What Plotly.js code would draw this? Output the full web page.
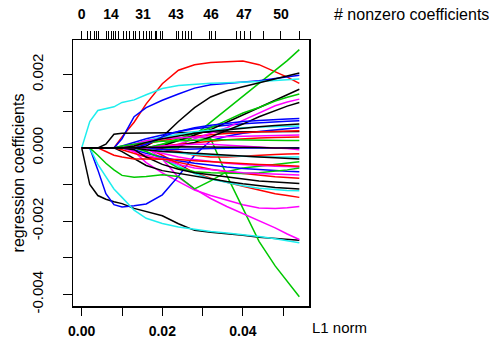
<!DOCTYPE html>
<html>
<head>
<meta charset="utf-8">
<script src="https://cdn.plot.ly/plotly-3.0.1.min.js"></script>
<style>html,body{margin:0;padding:0;background:#fff;}#chart{width:489px;height:339px;}</style>
</head>
<body>
<div id="chart"></div>
<script>
// L1 norm sample positions (x)
const l1norm = [0,0.002,0.004,0.006,0.008,0.010,0.013,0.016,0.020,0.024,0.028,0.032,0.036,0.040,0.044,0.048,0.051,0.054];

// coefficient paths, grouped by line colour
const blackPaths = [
  [0,-0.0010,-0.0013,-0.0014,-0.00147,-0.00152,-0.00165,-0.00174,-0.00185,-0.00207,-0.00225,-0.0023,-0.00233,-0.00238,-0.00244,-0.00248,-0.0025,-0.00252],
  [0,0,0,0,0,0,0,0.00005,0.0003,0.00072,0.0011,0.00139,0.00156,0.00167,0.00177,0.00188,0.00196,0.00204],
  [0,0,0,0.0001,0.00037,0.0004,0.0004,0.0004,0.00041,0.00042,0.00042,0.00043,0.00043,0.00044,0.00044,0.00045,0.00045,0.00045],
  [0,0,0,0,0,0,0,0,0.00005,0.0002,0.00035,0.0005,0.0007,0.0009,0.0011,0.0013,0.00145,0.0016],
  [0,0,0,0,0,0,0,0,0,0.00005,0.00015,0.0003,0.00047,0.00065,0.00085,0.00102,0.00114,0.00124],
  [0,0,0,0,0,-0.0001,-0.0003,-0.00048,-0.00062,-0.0007,-0.00078,-0.00085,-0.00092,-0.00098,-0.00104,-0.00108,-0.0011,-0.00112],
  [0,0,0,0,0,0,-0.00005,-0.00025,-0.00045,-0.00058,-0.00068,-0.00074,-0.0008,-0.00085,-0.0009,-0.00093,-0.00095,-0.00097],
  [0,0,0,0,0,0,0.00005,0.00015,0.00025,0.00033,0.0004,0.00045,0.0005,0.00054,0.00058,0.00061,0.00063,0.00065],
  [0,0,0,0,0,0,0,0,0.00002,0.00003,0.00003,0.00002,0.00002,0.00001,0.00001,0,0,0],
  [0,0,0,0,0,0,0,-0.00005,-0.0001,-0.00012,-0.00015,-0.00018,-0.0002,-0.00022,-0.00025,-0.00027,-0.00028,-0.0003]
];
const redPaths = [
  [0,0,0,0,0,0.0003,0.0007,0.0012,0.00175,0.00212,0.00227,0.00233,0.00236,0.00237,0.00227,0.00208,0.00193,0.00176],
  [0,0,0,0,0,0,0,0,-0.0002,-0.00045,-0.00068,-0.00083,-0.00095,-0.00105,-0.00115,-0.00125,-0.0013,-0.00135],
  [0,0,0,0,0,0,0.00005,0.00012,0.0002,0.00027,0.00032,0.00036,0.00039,0.00042,0.00044,0.00045,0.00046,0.00047],
  [0,0,0,0,0,0,0,0,0.00005,0.0001,0.00015,0.00018,0.00022,0.00025,0.00027,0.00028,0.00029,0.0003],
  [0,0,0,0,0,0,0,0,-0.00005,-0.0001,-0.0002,-0.00025,-0.00025,-0.00022,-0.0002,-0.00018,-0.00017,-0.00016],
  [0,0,0,0,0,-0.00005,-0.00015,-0.00025,-0.0003,-0.0004,-0.0005,-0.00058,-0.00065,-0.0007,-0.00075,-0.00079,-0.00081,-0.00083],
  [0,0,0,-0.0001,-0.0002,-0.00025,-0.0003,-0.0003,-0.0003,-0.00032,-0.00035,-0.00038,-0.0004,-0.00042,-0.00045,-0.00047,-0.00049,-0.0005]
];
const greenPaths = [
  [0,0,0,0,0,0,0,0,0,0,0.00035,0.0007,0.00105,0.0014,0.00175,0.0021,0.00238,0.00268],
  [0,0,0,0,0,0,0,0,0.0001,0.0002,0.0003,0.00025,-0.00075,-0.00165,-0.00255,-0.00322,-0.00365,-0.00406],
  [0,0,-0.0002,-0.00042,-0.0006,-0.00075,-0.0008,-0.00078,-0.00073,-0.00078,-0.00112,-0.0009,-0.00065,-0.00055,-0.0005,-0.00045,-0.0004,-0.00038],
  [0,0,0,0,0,0,0,0,0.0001,0.00025,0.0004,0.00055,0.00075,0.00095,0.0011,0.00128,0.00138,0.00147],
  [0,0,0,0,0,0.00005,0.0001,0.00015,0.00018,0.0002,0.00022,0.00022,0.00022,0.00021,0.0002,0.0002,0.0002,0.0002],
  [0,0,0,0,0,0,0,-0.0001,-0.0003,-0.00055,-0.00065,-0.00068,-0.0007,-0.0007,-0.00068,-0.00064,-0.0006,-0.00055]
];
const bluePaths = [
  [0,0,0,0,0,0.00025,0.00085,0.0011,0.0013,0.00147,0.00163,0.00172,0.00176,0.00178,0.00183,0.00189,0.00194,0.00198],
  [0,0,-0.0006,-0.00125,-0.00155,-0.00161,-0.00158,-0.00153,-0.00128,-0.00077,-0.0002,0.0002,0.00032,0.0004,0.00045,0.0005,0.00052,0.00055],
  [0,0,0,0,0,0.00005,0.00015,0.00025,0.00035,0.00045,0.00052,0.00058,0.00062,0.00066,0.00069,0.00071,0.00073,0.00074],
  [0,0,0,0,0,0,-0.00005,-0.00015,-0.00025,-0.00035,-0.00042,-0.00048,-0.00052,-0.00056,-0.0006,-0.00062,-0.00064,-0.00065],
  [0,0,0,0,0,0,0,0,-0.00005,-0.00005,-0.00003,-0.00002,0,0,0,0,0,0],
  [0,0,0,0,0,0,0,0.0001,0.0003,0.00045,0.00055,0.00062,0.00068,0.00072,0.00075,0.00078,0.00079,0.0008]
];
const cyanPaths = [
  [0,0.00072,0.00102,0.00107,0.00112,0.00124,0.00131,0.00145,0.00162,0.0017,0.00174,0.00176,0.00178,0.00179,0.00181,0.00184,0.00186,0.00188],
  [0,0,-0.00045,-0.0008,-0.00112,-0.00135,-0.0017,-0.00192,-0.00206,-0.00216,-0.00223,-0.00228,-0.00232,-0.00236,-0.00242,-0.00248,-0.00253,-0.00259],
  [0,0,0,0,0,0,0,-0.0001,-0.0003,-0.0005,-0.0007,-0.00085,-0.00095,-0.00103,-0.0011,-0.00114,-0.00116,-0.00117],
  [0,0,0,0,0,0,0.0001,0.0002,0.0003,0.00038,0.00044,0.00048,0.00052,0.00055,0.00057,0.00058,0.00059,0.0006],
  [0,0,0,0,0,0,0,-0.00005,-0.0001,-0.00015,-0.00018,-0.0002,-0.00022,-0.00023,-0.00024,-0.00025,-0.00025,-0.00025]
];
const magentaPaths = [
  [0,0,0,0,0,0,-0.0001,-0.0004,-0.00068,-0.00092,-0.00115,-0.0013,-0.00143,-0.00155,-0.00164,-0.00165,-0.00163,-0.0016],
  [0,0,0,0,0,0,0,0,-0.0003,-0.0008,-0.00112,-0.00138,-0.0016,-0.00179,-0.00198,-0.00218,-0.00235,-0.0025],
  [0,0,0,0,0,0,0,0,0,0.0001,0.00025,0.0004,0.00055,0.00075,0.00095,0.00115,0.00125,0.00133],
  [0,0,0,0,0,0,0.0001,0.0002,0.00025,0.00028,0.0003,0.0003,0.00031,0.00032,0.00033,0.00034,0.00035,0.00035],
  [0,0,0,0,0,0,0,-0.00005,-0.00015,-0.00025,-0.00032,-0.00038,-0.00042,-0.00045,-0.00048,-0.0005,-0.00051,-0.00052],
  [0,0,0,0,0,0,-0.0001,-0.0002,-0.0003,-0.00045,-0.00055,-0.0006,-0.00065,-0.00068,-0.0007,-0.00072,-0.00073,-0.00074],
  [0,0,0,0,0,0,0,0,0.00005,0.00008,0.0001,0.0001,0.00008,0.00005,0.00003,0,-0.00002,-0.00005]
];

// axis ticks and labels
const xTickVals = [0,0.01,0.02,0.03,0.04,0.05];
const xTickText = ['0.00','','0.02','','0.04',''];
const yTickVals = [-0.004,-0.003,-0.002,-0.001,0,0.001,0.002];
const yTickText = ['-0.004','','-0.002','','0.000','','0.002'];
// top rug of steps and the number of nonzero coefficients
const dfTickPos = [0,0.00156,0.00206,0.00305,0.00355,0.00429,0.00603,0.00653,0.00727,0.00777,0.00827,0.00901,0.01025,0.01099,0.01174,0.01273,0.01347,0.01422,0.01521,0.01596,0.0167,0.01744,0.01819,0.01868,0.01943,0.02017,0.0234,0.02414,0.02489,0.02563,0.02638,0.02712,0.03159,0.03308,0.03829,0.03928,0.04027,0.04176,0.04499,0.04945,0.05392];
const dfLabelPos = [0,0.00727,0.01521,0.0234,0.03211,0.04027,0.04945];
const dfLabels = ['0','14','31','43','46','47','50'];

const groups = [
  {paths: blackPaths, color: '#000000'},
  {paths: redPaths, color: '#FF0000'},
  {paths: greenPaths, color: '#00C800'},
  {paths: bluePaths, color: '#0000FF'},
  {paths: cyanPaths, color: '#1EEEEE'},
  {paths: magentaPaths, color: '#FF00FF'}
];
const traces = [];
const maxLen = Math.max(...groups.map(g => g.paths.length));
for (let i = 0; i < maxLen; i++) {
  groups.forEach(g => {
    if (i < g.paths.length) {
      traces.push({x: l1norm, y: g.paths[i], type: 'scatter', mode: 'lines',
        line: {color: g.color, width: 1.5}, hoverinfo: 'skip', showlegend: false});
    }
  });
}
// the top axes share the same L1-norm scale; attach one path to each so they are drawn
traces[traces.length - 2].xaxis = 'x2';
traces[traces.length - 1].xaxis = 'x3';

const FONT = 'Liberation Sans, Arial, sans-serif';
const xr = [-0.00216, 0.0564];
const layout = {
  width: 489, height: 339,
  margin: {l: 73, r: 180, t: 40, b: 33, pad: 0},
  paper_bgcolor: '#fff', plot_bgcolor: '#fff',
  showlegend: false,
  font: {family: FONT, color: '#000', size: 15},
  xaxis: {
    range: xr, tickvals: xTickVals, ticktext: xTickText,
    ticks: 'outside', ticklen: 8, tickwidth: 1, tickcolor: '#000',
    ticklabelstandoff: 4,
    showline: true, mirror: true, linecolor: '#000', linewidth: 1.5,
    showgrid: false, zeroline: false, automargin: false,
    tickfont: {family: FONT, size: 14, color: '#000', weight: 'bold'}
  },
  xaxis2: {
    overlaying: 'x', side: 'top', anchor: 'y', range: xr,
    tickvals: dfTickPos, showticklabels: false,
    ticks: 'outside', ticklen: 8, tickwidth: 1, tickcolor: '#000',
    showline: false, showgrid: false, zeroline: false, automargin: false
  },
  xaxis3: {
    overlaying: 'x', side: 'top', anchor: 'y', range: xr,
    tickvals: dfLabelPos, ticktext: dfLabels,
    ticks: 'outside', ticklen: 8, tickwidth: 1, tickcolor: '#000',
    ticklabelstandoff: 6,
    showline: false, showgrid: false, zeroline: false, automargin: false,
    tickfont: {family: FONT, size: 14, color: '#000', weight: 'bold'}
  },
  yaxis: {
    range: [-0.004313, 0.002943], tickvals: yTickVals, ticktext: yTickText,
    tickangle: -90,
    ticks: 'outside', ticklen: 9, tickwidth: 1, tickcolor: '#000',
    ticklabelstandoff: 14,
    showline: true, mirror: true, linecolor: '#000', linewidth: 1.5,
    showgrid: false, zeroline: false, automargin: false,
    tickfont: {family: FONT, size: 15, color: '#000'},
    title: {text: 'regression coefficients', font: {family: FONT, size: 16, color: '#000'}, standoff: 0}
  },
  annotations: [
    {text: 'L1 norm', xref: 'paper', yref: 'paper', x: 1.0, y: -0.0827, xanchor: 'left', yanchor: 'middle',
     xshift: 1, showarrow: false, font: {family: FONT, size: 15, color: '#000'}},
    {text: '# nonzero coefficients', xref: 'paper', yref: 'paper', x: 1.0, y: 1.094, xanchor: 'left', yanchor: 'middle',
     xshift: 23, showarrow: false, font: {family: FONT, size: 16, color: '#000'}}
  ]
};
Plotly.newPlot('chart', traces, layout, {staticPlot: true, displayModeBar: false});
</script>
</body>
</html>
